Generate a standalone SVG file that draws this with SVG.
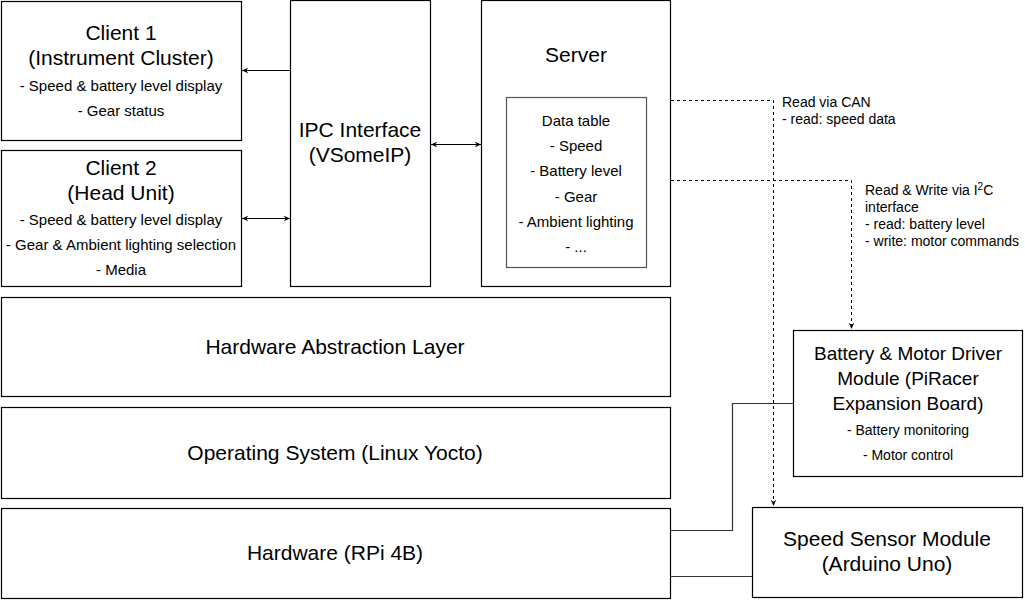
<svg xmlns="http://www.w3.org/2000/svg" width="1025" height="600" viewBox="0 0 1025 600">
<defs>
<style>
.box{fill:#fff;stroke:#000;stroke-width:1.2}
.t{font-family:"Liberation Sans",Arial,sans-serif;fill:#000;text-anchor:middle}
.big{font-size:21px}
.sm{font-size:15px}
.mid{font-size:19px}
.sm2{font-size:14px}
.lbl{font-family:"Liberation Sans",Arial,sans-serif;font-size:14px;fill:#000}
.e{fill:none;stroke:#000;stroke-width:1}
.d{fill:none;stroke:#000;stroke-width:1;stroke-dasharray:3 3}
.g{fill:none;stroke:#333;stroke-width:1.2}
</style>
<marker id="ah" viewBox="0 0 10 10" refX="9" refY="5" markerWidth="7" markerHeight="7" orient="auto-start-reverse" markerUnits="userSpaceOnUse">
<path d="M0,1 L9,5 L0,9 L3,5 z" fill="#000"/>
</marker>
</defs>
<rect width="1025" height="600" fill="#fff"/>
<g id="client1">
<rect class="box" x="1.5" y="1.5" width="240" height="139"/>
<text class="t big" x="121" y="40">Client 1</text>
<text class="t big" x="121" y="65">(Instrument Cluster)</text>
<text class="t sm" x="121" y="91">- Speed &amp; battery level display</text>
<text class="t sm" x="121" y="116">- Gear status</text>
</g>
<g id="client2">
<rect class="box" x="1.5" y="150.5" width="240" height="136"/>
<text class="t big" x="121" y="175">Client 2</text>
<text class="t big" x="121" y="200">(Head Unit)</text>
<text class="t sm" x="121" y="225">- Speed &amp; battery level display</text>
<text class="t sm" x="121" y="250">- Gear &amp; Ambient lighting selection</text>
<text class="t sm" x="121" y="275">- Media</text>
</g>
<g id="ipc">
<rect class="box" x="290.5" y="0.5" width="140" height="286"/>
<text class="t big" x="360" y="137">IPC Interface</text>
<text class="t big" x="360" y="162">(VSomeIP)</text>
</g>
<g id="server">
<rect class="box" x="481.5" y="0.5" width="189" height="286"/>
<text class="t big" x="576" y="62">Server</text>
</g>
<g id="datatable">
<rect class="box" x="506.5" y="97.5" width="140" height="170" style="stroke:#555"/>
<text class="t sm" x="576" y="126">Data table</text>
<text class="t sm" x="576" y="151">- Speed</text>
<text class="t sm" x="576" y="176">- Battery level</text>
<text class="t sm" x="576" y="202">- Gear</text>
<text class="t sm" x="576" y="227">- Ambient lighting</text>
<text class="t sm" x="576" y="252">- ...</text>
</g>
<g id="hal">
<rect class="box" x="1.5" y="297.5" width="669" height="99"/>
<text class="t big" x="335" y="354">Hardware Abstraction Layer</text>
</g>
<g id="os">
<rect class="box" x="1.5" y="407.5" width="669" height="91"/>
<text class="t big" x="335" y="460">Operating System (Linux Yocto)</text>
</g>
<g id="hardware">
<rect class="box" x="1.5" y="508.5" width="669" height="90"/>
<text class="t big" x="335" y="560">Hardware (RPi 4B)</text>
</g>
<g id="battery">
<rect class="box" x="793.5" y="330.5" width="229" height="146"/>
<text class="t mid" x="908" y="360">Battery &amp; Motor Driver</text>
<text class="t mid" x="908" y="385">Module (PiRacer</text>
<text class="t mid" x="908" y="410">Expansion Board)</text>
<text class="t sm2" x="908" y="435">- Battery monitoring</text>
<text class="t sm2" x="908" y="460">- Motor control</text>
</g>
<g id="speedsensor">
<rect class="box" x="752.5" y="507.5" width="270" height="90"/>
<text class="t big" x="887" y="546">Speed Sensor Module</text>
<text class="t big" x="887" y="571">(Arduino Uno)</text>
</g>
<g id="connectors">
<line class="e" x1="290" y1="70.5" x2="242" y2="70.5" marker-end="url(#ah)"/>
<line class="e" x1="242" y1="218.5" x2="290" y2="218.5" marker-start="url(#ah)" marker-end="url(#ah)"/>
<line class="e" x1="431" y1="144.5" x2="481" y2="144.5" marker-start="url(#ah)" marker-end="url(#ah)"/>
<polyline class="d" points="671,100.5 773.5,100.5 773.5,506" marker-end="url(#ah)"/>
<polyline class="d" points="671,180.5 851.5,180.5 851.5,329" marker-end="url(#ah)"/>
<polyline class="g" points="793,403.5 732.5,403.5 732.5,530.5 671,530.5"/>
<line class="g" x1="752" y1="576.5" x2="671" y2="576.5"/>
<text class="lbl" x="782" y="107">Read via CAN</text>
<text class="lbl" x="782" y="124">- read: speed data</text>
<text class="lbl" x="865" y="195">Read &amp; Write via I<tspan dy="-5" font-size="10">2</tspan><tspan dy="5">C</tspan></text>
<text class="lbl" x="865" y="212">interface</text>
<text class="lbl" x="865" y="229">- read: battery level</text>
<text class="lbl" x="865" y="246">- write: motor commands</text>
</g>
</svg>
